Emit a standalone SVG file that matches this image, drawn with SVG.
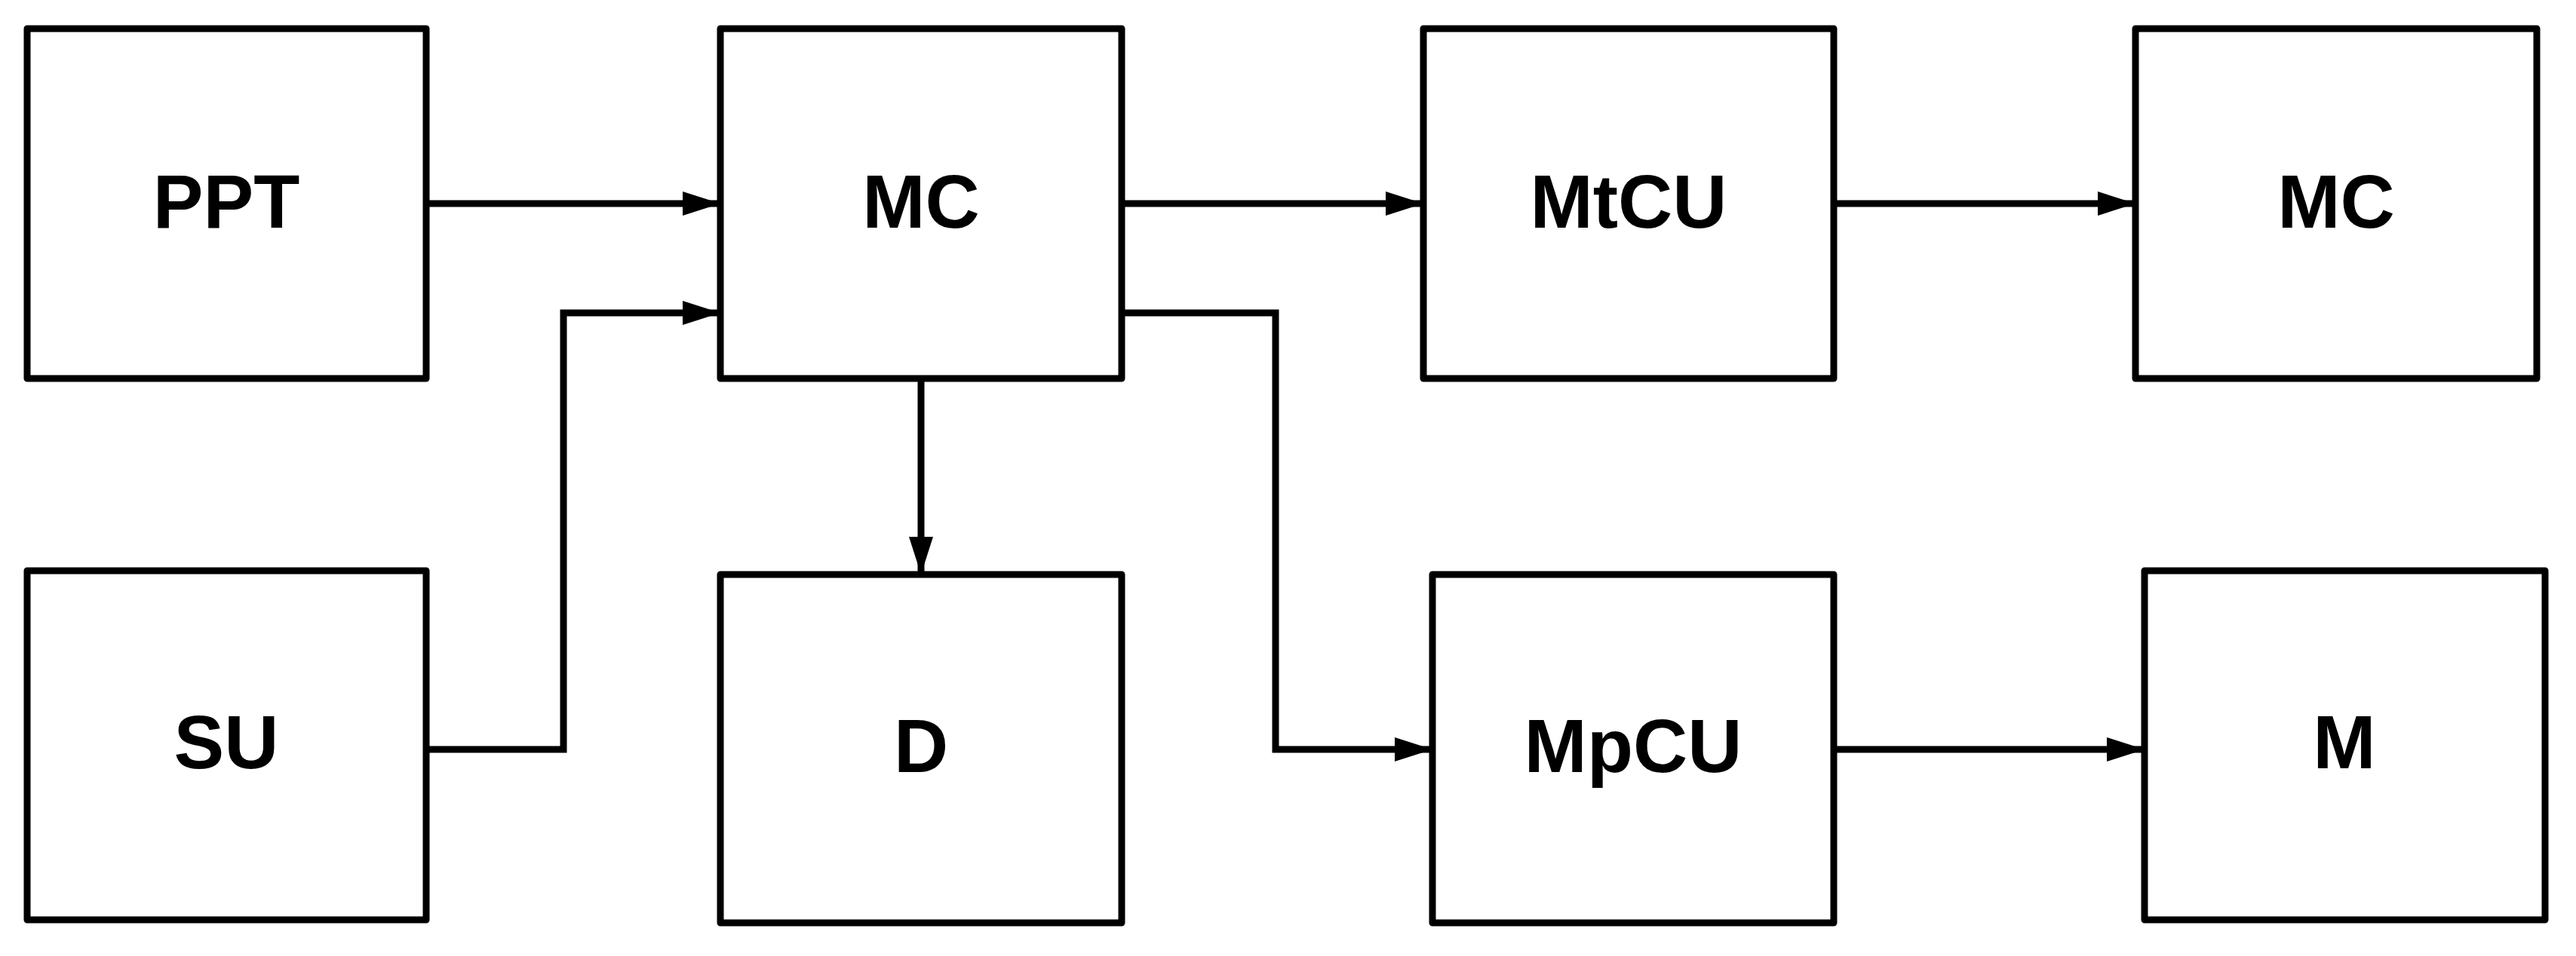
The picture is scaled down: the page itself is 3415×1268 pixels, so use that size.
<svg xmlns="http://www.w3.org/2000/svg" width="3415" height="1268" viewBox="0 0 3415 1268">
<style>
.b{fill:#fff;stroke:#000;stroke-width:9;stroke-linejoin:round}
.t{font-family:"Liberation Sans",Arial,sans-serif;font-weight:bold;font-size:100px;text-anchor:middle;fill:#000}
.c{fill:none;stroke:#000;stroke-width:9;marker-end:url(#a)}
</style>
<defs><marker id="a" markerUnits="userSpaceOnUse" markerWidth="50" markerHeight="32" refX="50" refY="16" orient="auto"><path d="M0,0L50,16L0,32z" fill="#000"/></marker></defs>
<rect width="3415" height="1268" fill="#fff"/>
<g id="PPT"><rect class="b" x="36" y="38" width="529" height="464"/><text class="t" x="300" y="302">PPT</text></g>
<g id="MC"><rect class="b" x="955" y="38" width="532" height="464"/><text class="t" x="1221" y="302">MC</text></g>
<g id="MtCU"><rect class="b" x="1887" y="38" width="544" height="464"/><text class="t" x="2159" y="302">MtCU</text></g>
<g id="MC2"><rect class="b" x="2831" y="38" width="532" height="464"/><text class="t" x="3097" y="302">MC</text></g>
<g id="SU"><rect class="b" x="36" y="757" width="529" height="463"/><text class="t" x="300" y="1019">SU</text></g>
<g id="D"><rect class="b" x="955" y="762" width="532" height="462"/><text class="t" x="1221" y="1024">D</text></g>
<g id="MpCU"><rect class="b" x="1899" y="762" width="532" height="462"/><text class="t" x="2165" y="1024">MpCU</text></g>
<g id="M"><rect class="b" x="2843" y="757" width="531" height="463"/><text class="t" x="3108" y="1019">M</text></g>
<g id="connectors">
<path class="c" d="M565,270H955"/>
<path class="c" d="M565,994H747V415H955"/>
<path class="c" d="M1487,270H1887"/>
<path class="c" d="M2431,270H2831"/>
<path class="c" d="M1221,502V762"/>
<path class="c" d="M1487,415H1691V994H1899"/>
<path class="c" d="M2431,994H2843"/>
</g>
</svg>
